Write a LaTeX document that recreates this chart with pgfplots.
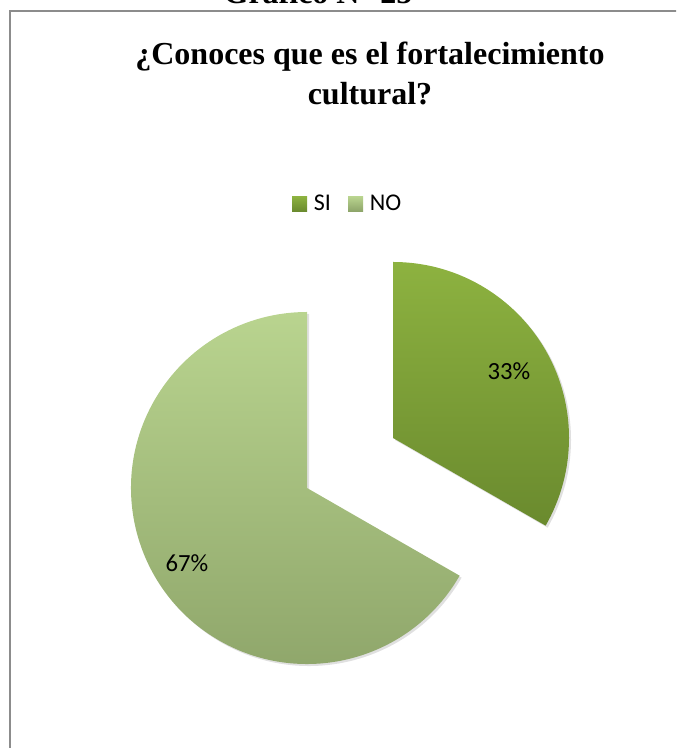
\documentclass[border=0pt]{standalone}
\usepackage{pgfplots}
\pgfplotsset{compat=1.18}
\usepackage{pgfplotstable}
\usepackage{fontspec}
\setmainfont{Liberation Serif}
\newfontfamily\calibri{Carlito}
\definecolor{siTop}{HTML}{8DB240}
\definecolor{siBot}{HTML}{6A8A2E}
\definecolor{noTop}{HTML}{B9D48F}
\definecolor{noBot}{HTML}{8DA469}
\definecolor{frameC}{HTML}{8C8C8C}
\pgfplotstableread{
label value
SI 33.3
NO 66.7
}\piedata
\pgfplotstablegetelem{0}{value}\of\piedata
\let\vSI\pgfplotsretval
\pgfmathsetmacro\aEnd{90-3.6*\vSI}
\def\R{132pt}
\begin{document}
\begin{tikzpicture}
\useasboundingbox (0,0) rectangle (507pt,561pt);
\clip (0,0) rectangle (507pt,561pt);
\begin{axis}[x=0.75pt,y=0.75pt,xmin=0,xmax=676,ymin=0,ymax=748,
  hide axis,anchor=origin,at={(0,0)},clip=false,
  legend style={at={(0.5148,0.7273)}, anchor=center, draw=none, fill=none,
    font=\calibri\fontsize{18}{20}\selectfont, legend columns=2,
    /tikz/every odd column/.append style={column sep=3pt},
    /tikz/every even column/.append style={column sep=11pt}},
  legend image code/.code={\shade[draw=none,#1] (0pt,-5.6pt) rectangle (11.25pt,5.6pt);},
]
\addlegendimage{top color=siTop,bottom color=siBot}
\addlegendentry{SI}
\addlegendimage{top color=noTop,bottom color=noBot}
\addlegendentry{NO}
% frame
\draw[line width=1.5pt, frameC] (axis cs:10,0) -- (axis cs:10,737) -- (axis cs:680,737);
% shadows
\fill[black,opacity=0.12] ([shift={(1.5pt,-1.5pt)}]axis cs:393,310) -- ++(90:\R) arc[start angle=90,end angle=\aEnd,radius=\R] -- cycle;
\fill[black,opacity=0.12] ([shift={(1.5pt,-1.5pt)}]axis cs:307,260) -- ++(\aEnd:\R) arc[start angle=\aEnd,end angle=-270,radius=\R] -- cycle;
% slices
\shade[top color=siTop,bottom color=siBot] (axis cs:393,310) -- ++(90:\R) arc[start angle=90,end angle=\aEnd,radius=\R] -- cycle;
\shade[top color=noTop,bottom color=noBot] (axis cs:307,260) -- ++(\aEnd:\R) arc[start angle=\aEnd,end angle=-270,radius=\R] -- cycle;
% data labels
\node[font=\calibri\fontsize{18.5}{20}\selectfont] at (axis cs:509,377) {33\%};
\node[font=\calibri\fontsize{18.5}{20}\selectfont] at (axis cs:187,185) {67\%};
% titles
\node[anchor=base,font=\bfseries\fontsize{24}{28}\selectfont] at (axis cs:370,683) {¿Conoces que es el fortalecimiento};
\node[anchor=base,font=\bfseries\fontsize{24}{28}\selectfont] at (axis cs:370,643) {cultural?};
\node[anchor=base,font=\bfseries\fontsize{24}{28}\selectfont] at (axis cs:318,744) {Gráfico N° 25};
\end{axis}
\end{tikzpicture}
\end{document}
